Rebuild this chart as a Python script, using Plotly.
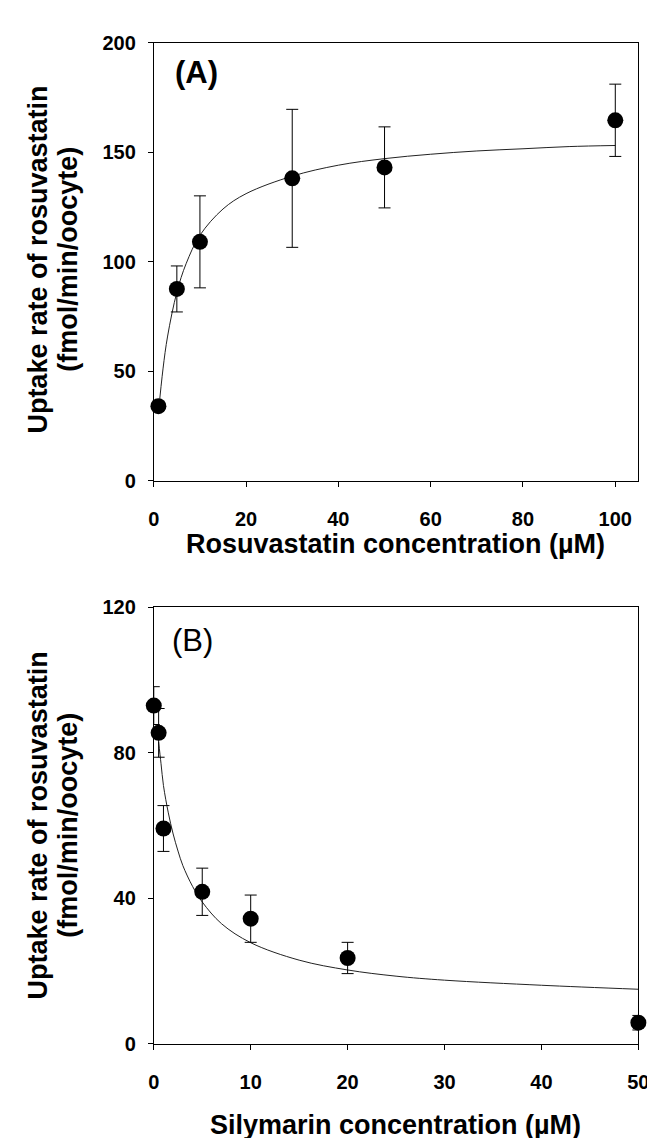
import plotly.graph_objects as go

W, H = 655, 1138

# Panel A: rosuvastatin concentration dependence
conc_a = [1, 5, 10, 30, 50, 100]
rate_a = [34, 87.5, 109, 138, 143, 164.5]
err_a = [2, 10.5, 21, 31.5, 18.5, 16.5]
fit_a_x = [1, 2, 3, 5, 7, 10, 15, 20, 30, 40, 50, 60, 70, 80, 90, 100]
fit_a_y = [31, 51, 66, 86, 99, 112, 124, 131, 139, 144, 147, 149, 150.5, 151.5, 152.5, 153]

# Panel B: silymarin inhibition
conc_b = [0, 0.5, 1, 5, 10, 20, 50]
rate_b = [93, 85.5, 59.2, 41.8, 34.4, 23.6, 5.8]
err_b = [5.2, 6.7, 6.3, 6.5, 6.5, 4.3, 2]
fit_b_x = [0.5, 0.75, 1, 1.5, 2, 2.5, 3, 4, 5, 7, 10, 15, 20, 25, 30, 40, 50]
fit_b_y = [83, 77, 71, 63.5, 57.7, 53, 49, 43.3, 39, 33, 27.8, 23, 20.3, 18.6, 17.5, 16.1, 15]

FONT = "Arial, Liberation Sans, sans-serif"

def px(x):
    return x / W

def py(y):
    return 1 - y / H

fig = go.Figure()

fig.add_trace(go.Scatter(x=fit_a_x, y=fit_a_y, mode="lines", line=dict(color="#222", width=1, shape="spline"),
                         xaxis="x", yaxis="y", showlegend=False, hoverinfo="skip"))
fig.add_trace(go.Scatter(x=conc_a, y=rate_a, mode="markers",
                         marker=dict(color="black", size=16),
                         error_y=dict(type="data", array=err_a, color="black", thickness=1, width=6),
                         xaxis="x", yaxis="y", showlegend=False, cliponaxis=False))

fig.add_trace(go.Scatter(x=fit_b_x, y=fit_b_y, mode="lines", line=dict(color="#222", width=1, shape="spline"),
                         xaxis="x2", yaxis="y2", showlegend=False, hoverinfo="skip"))
fig.add_trace(go.Scatter(x=conc_b, y=rate_b, mode="markers",
                         marker=dict(color="black", size=16),
                         error_y=dict(type="data", array=err_b, color="black", thickness=1, width=6),
                         xaxis="x2", yaxis="y2", showlegend=False, cliponaxis=False))

tickfont = dict(family=FONT, size=20, color="black", weight="bold")
common = dict(showgrid=False, zeroline=False, showline=True, linecolor="black", linewidth=1,
              mirror=True, ticks="outside", ticklen=5, tickcolor="black", tickwidth=1,
              tickfont=tickfont)

xd = [px(143.5), px(641)]
fig.update_layout(
    width=W, height=H,
    margin=dict(l=0, r=0, t=0, b=0),
    paper_bgcolor="white", plot_bgcolor="white",
    xaxis=dict(domain=xd, range=[0, 105], tickvals=[0, 20, 40, 60, 80, 100], anchor="y",
               ticklabelstandoff=15, **common),
    yaxis=dict(domain=[py(470.7), py(24)], range=[0, 200], tickvals=[0, 50, 100, 150, 200], anchor="x",
               ticklabelstandoff=8, **common),
    xaxis2=dict(domain=xd, range=[0, 50], tickvals=[0, 10, 20, 30, 40, 50], anchor="y2",
                ticklabelstandoff=15, **common),
    yaxis2=dict(domain=[py(1045), py(600)], range=[0, 120], tickvals=[0, 40, 80, 120], anchor="x2",
                ticklabelstandoff=8, **common),
)

titlefont = dict(family=FONT, size=27, color="black", weight="bold")
ann = []
# x titles
ann.append(dict(text="Rosuvastatin concentration (\u00b5M)", x=px(392), y=py(535), xref="paper", yref="paper",
                showarrow=False, font=titlefont, xanchor="center", yanchor="middle"))
ann.append(dict(text="Silymarin concentration (\u00b5M)", x=px(392), y=py(1128), xref="paper", yref="paper",
                showarrow=False, font=titlefont, xanchor="center", yanchor="middle"))
# y titles
for cy in (245, 822):
    ann.append(dict(text="Uptake rate of rosuvastatin", x=px(25), y=py(cy), xref="paper", yref="paper",
                    showarrow=False, font=titlefont, textangle=-90, xanchor="center", yanchor="middle"))
    ann.append(dict(text="(fmol/min/oocyte)", x=px(56), y=py(cy), xref="paper", yref="paper",
                    showarrow=False, font=titlefont, textangle=-90, xanchor="center", yanchor="middle"))
# panel labels
ann.append(dict(text="(A)", x=px(187), y=py(55), xref="paper", yref="paper", showarrow=False,
                font=dict(family=FONT, size=31, color="black", weight="bold"), xanchor="center", yanchor="middle"))
ann.append(dict(text="(B)", x=px(183), y=py(634), xref="paper", yref="paper", showarrow=False,
                font=dict(family=FONT, size=31, color="black"), xanchor="center", yanchor="middle"))
fig.update_layout(annotations=ann)

fig.write_html("out.html")
